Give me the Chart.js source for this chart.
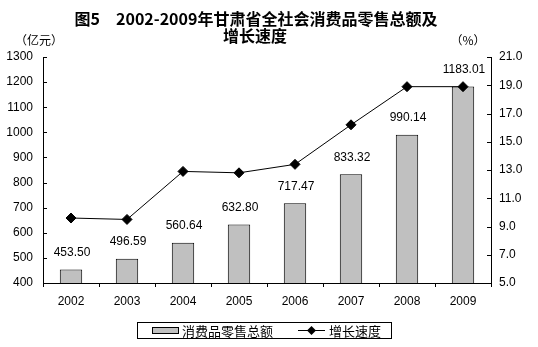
<!DOCTYPE html>
<html>
<head>
<meta charset="utf-8">
<script src="https://cdn.jsdelivr.net/npm/chart.js@4/dist/chart.umd.min.js"></script>
<style>
    html, body { margin: 0; padding: 0; background: #fff; }
    canvas { display: block; }
</style>
</head>
<body>
<canvas id="myChart" width="538" height="347"></canvas>
<script>
const years = ['2002', '2003', '2004', '2005', '2006', '2007', '2008', '2009'];
const retailSales = [453.50, 496.59, 560.64, 632.80, 717.47, 833.32, 990.14, 1183.01];
const growthRate = [9.6, 9.5, 12.9, 12.8, 13.4, 16.2, 18.9, 18.9];
const titleLines = ['图5　2002-2009年甘肃省全社会消费品零售总额及', '增长速度'];
const leftUnit = '（亿元）';
const rightUnit = '（%）';

const NUM_FONT = 'Arial, "Liberation Sans", sans-serif';
const CJK_FONT = '"Noto Sans CJK SC", "Liberation Sans", sans-serif';

Chart.defaults.font.family = NUM_FONT;
Chart.defaults.font.size = 12;
Chart.defaults.color = '#000';

// extra drawing: title, unit captions, inward ticks, value labels, boxed legend
const decorations = {
    id: 'decorations',
    afterDraw(chart) {
        const ctx = chart.ctx;
        const area = chart.chartArea;
        ctx.save();

        ctx.fillStyle = '#000';
        ctx.textAlign = 'center';
        ctx.textBaseline = 'middle';
        ctx.font = 'bold 16px ' + CJK_FONT;
        ctx.fillText(titleLines[0], 256, 19);
        ctx.fillText(titleLines[1], 255, 36);

        ctx.font = '12px ' + CJK_FONT;
        ctx.fillText(leftUnit, 39, 40);
        ctx.fillText(rightUnit, 468, 40);

        // ticks pointing into the plot
        ctx.strokeStyle = '#000';
        ctx.lineWidth = 1;
        const y = chart.scales.y;
        const y1 = chart.scales.y1;
        ctx.beginPath();
        y.ticks.forEach(t => {
            const py = Math.round(y.getPixelForValue(t.value)) + 0.5;
            ctx.moveTo(area.left, py);
            ctx.lineTo(area.left + 4, py);
        });
        y1.ticks.forEach(t => {
            const py = Math.round(y1.getPixelForValue(t.value)) + 0.5;
            ctx.moveTo(area.right, py);
            ctx.lineTo(area.right - 4, py);
        });
        ctx.stroke();

        // value labels above bars
        ctx.font = '12px ' + NUM_FONT;
        const barMeta = chart.getDatasetMeta(0);
        barMeta.data.forEach((bar, i) => {
            ctx.fillText(retailSales[i].toFixed(2), bar.x + 1, bar.y - 17);
        });

        // legend
        const lx = 137.5, ly = 322.5, lw = 254, lh = 16;
        ctx.strokeRect(lx, ly, lw, lh);
        ctx.fillStyle = '#C0C0C0';
        ctx.fillRect(152.5, 327.5, 26, 6);
        ctx.strokeRect(152.5, 327.5, 26, 6);
        ctx.fillStyle = '#000';
        ctx.textAlign = 'left';
        ctx.font = '13px ' + CJK_FONT;
        ctx.fillText(chart.data.datasets[0].label, 182, 331);
        ctx.beginPath();
        ctx.moveTo(298, 330.5);
        ctx.lineTo(325, 330.5);
        ctx.stroke();
        ctx.beginPath();
        ctx.moveTo(311.5, 326);
        ctx.lineTo(316, 330.5);
        ctx.lineTo(311.5, 335);
        ctx.lineTo(307, 330.5);
        ctx.closePath();
        ctx.fill();
        ctx.fillText(chart.data.datasets[1].label, 329, 331);

        ctx.restore();
    }
};

const ctx = document.getElementById('myChart').getContext('2d');
new Chart(ctx, {
    data: {
        labels: years,
        datasets: [{
            type: 'bar',
            label: '消费品零售总额',
            data: retailSales,
            yAxisID: 'y',
            backgroundColor: '#C0C0C0',
            borderColor: '#000',
            borderWidth: 1,
            barPercentage: 0.4,
            categoryPercentage: 1,
            order: 1
        }, {
            type: 'line',
            label: '增长速度',
            data: growthRate,
            yAxisID: 'y1',
            borderColor: '#000',
            borderWidth: 1,
            pointStyle: 'rectRot',
            pointRadius: 5,
            pointBackgroundColor: '#000',
            pointBorderColor: '#000',
            tension: 0,
            fill: false,
            order: 0
        }]
    },
    options: {
        responsive: false,
        animation: false,
        devicePixelRatio: 1,
        layout: { padding: { top: 57, left: 0, right: 0, bottom: 0 } },
        plugins: {
            legend: { display: false },
            title: { display: false },
            tooltip: { enabled: false }
        },
        scales: {
            x: {
                offset: true,
                grid: {
                    offset: true,
                    drawOnChartArea: false,
                    drawTicks: true,
                    tickLength: 4,
                    color: '#000'
                },
                border: { color: '#000' },
                ticks: { padding: 7, maxRotation: 0 },
                afterFit(scale) { scale.height = 64; }
            },
            y: {
                position: 'left',
                min: 400,
                max: 1300,
                ticks: { stepSize: 100, padding: 10, callback: v => String(v) },
                grid: { drawOnChartArea: false, drawTicks: false },
                border: { color: '#000' },
                afterFit(scale) { scale.width = 43; }
            },
            y1: {
                position: 'right',
                min: 5,
                max: 21,
                ticks: { stepSize: 2, padding: 8, callback: v => v.toFixed(1) },
                grid: { drawOnChartArea: false, drawTicks: false },
                border: { color: '#000' },
                afterFit(scale) { scale.width = 47; }
            }
        }
    },
    plugins: [decorations]
});
</script>
</body>
</html>
